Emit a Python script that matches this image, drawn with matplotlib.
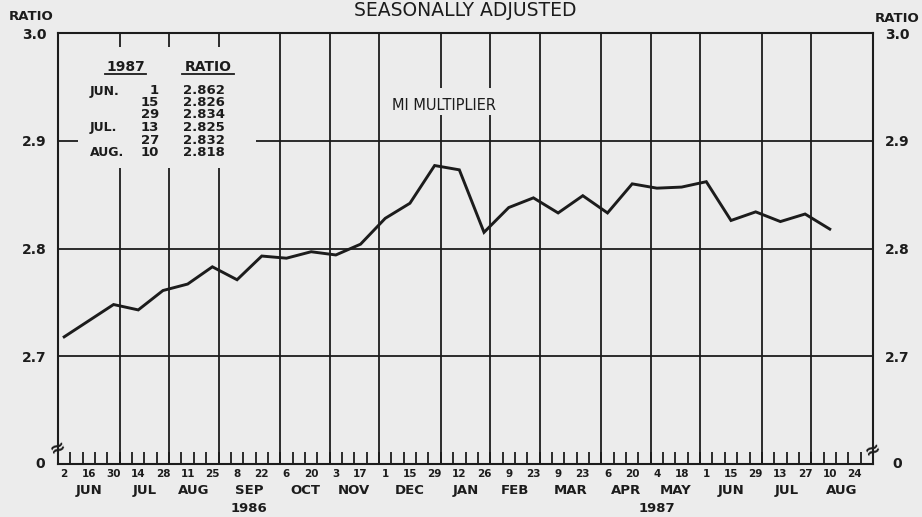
import matplotlib
matplotlib.use('Agg')
import matplotlib.pyplot as plt
import matplotlib.dates as mdates
from matplotlib.lines import Line2D
from matplotlib.transforms import blended_transform_factory
import pandas as pd

plt.rcParams['font.family'] = ['DejaVu Sans']

# ---------------- data ----------------
dates = ['1986-06-02', '1986-06-16', '1986-06-30', '1986-07-14', '1986-07-28',
         '1986-08-11', '1986-08-25', '1986-09-08', '1986-09-22', '1986-10-06',
         '1986-10-20', '1986-11-03', '1986-11-17', '1986-12-01', '1986-12-15',
         '1986-12-29', '1987-01-12', '1987-01-26', '1987-02-09', '1987-02-23',
         '1987-03-09', '1987-03-23', '1987-04-06', '1987-04-20', '1987-05-04',
         '1987-05-18', '1987-06-01', '1987-06-15', '1987-06-29', '1987-07-13',
         '1987-07-27', '1987-08-10']
values = [2.718, 2.733, 2.748, 2.743, 2.761, 2.767, 2.783, 2.771, 2.793, 2.791,
          2.797, 2.794, 2.804, 2.828, 2.842, 2.877, 2.873, 2.815, 2.838, 2.847,
          2.833, 2.849, 2.833, 2.860, 2.856, 2.857, 2.862, 2.826, 2.834, 2.825,
          2.832, 2.818]

title = 'SEASONALLY ADJUSTED'
series_label = 'MI MULTIPLIER'
y_axis_title = 'RATIO'
y_ticks = [2.7, 2.8, 2.9, 3.0]
y_tick_labels = ['2.7', '2.8', '2.9', '3.0']
y_floor = 2.6          # broken axis: drawn as "0"
y_floor_label = '0'

label_dates = ['1986-06-02', '1986-06-16', '1986-06-30', '1986-07-14', '1986-07-28',
               '1986-08-11', '1986-08-25', '1986-09-08', '1986-09-22', '1986-10-06',
               '1986-10-20', '1986-11-03', '1986-11-17', '1986-12-01', '1986-12-15',
               '1986-12-29', '1987-01-12', '1987-01-26', '1987-02-09', '1987-02-23',
               '1987-03-09', '1987-03-23', '1987-04-06', '1987-04-20', '1987-05-04',
               '1987-05-18', '1987-06-01', '1987-06-15', '1987-06-29', '1987-07-13',
               '1987-07-27', '1987-08-10', '1987-08-24']
month_names = ['JUN', 'JUL', 'AUG', 'SEP', 'OCT', 'NOV', 'DEC',
               'JAN', 'FEB', 'MAR', 'APR', 'MAY', 'JUN', 'JUL', 'AUG']
first_week = '1986-06-02'
last_week = '1987-08-31'

table_head = ['1987', 'RATIO']
table_months = ['JUN.', '', '', 'JUL.', '', 'AUG.']
table_days = ['1', '15', '29', '13', '27', '10']
table_ratios = ['2.862', '2.826', '2.834', '2.825', '2.832', '2.818']

# ---------------- style ----------------
BG = '#ececec'
INK = '#1c1c1c'
W, H = 922, 517
L, R, T, B = 58, 873, 33, 464

fig = plt.figure(figsize=(W / 100, H / 100), dpi=100, facecolor=BG)
ax = fig.add_axes([L / W, 1 - B / H, (R - L) / W, (B - T) / H], facecolor=BG)

def px(x, y):
    return x / W, 1 - y / H

x = mdates.date2num(pd.to_datetime(dates))
wk = pd.date_range(first_week, last_week, freq='7D')
wkn = mdates.date2num(wk)
half = 3.5
ax.set_xlim(wkn[0] - half, wkn[-1] + half)
ax.set_ylim(y_floor, 3.0)

# month boundaries
bounds = [wkn[i] - half for i in range(1, len(wk)) if wk.month[i] != wk.month[i - 1]]
edges = [wkn[0] - half] + bounds + [wkn[-1] + half]

gaps = {0: (2.875, 2.987), 1: (2.875, 2.987), 2: (2.875, 2.987),
        6: (2.924, 2.949), 7: (2.924, 2.949)}
for i, bx in enumerate(bounds):
    if i in gaps:
        g0, g1 = gaps[i]
        ax.vlines(bx, y_floor, g0, color=INK, lw=1.3)
        ax.vlines(bx, g1, 3.0, color=INK, lw=1.3)
    else:
        ax.vlines(bx, y_floor, 3.0, color=INK, lw=1.3)

for yv in y_ticks[:-1]:
    if yv == 2.9:
        xa = wkn[0] + 1.12 * 7
        xb = wkn[0] + 15.53 * 7
        ax.hlines(yv, wkn[0] - half, xa, color=INK, lw=1.3)
        ax.hlines(yv, xb, wkn[-1] + half, color=INK, lw=1.3)
    else:
        ax.hlines(yv, wkn[0] - half, wkn[-1] + half, color=INK, lw=1.3)

# data line
ax.plot(x, values, color=INK, lw=2.1, solid_joinstyle='miter', zorder=5)

# spines
for s in ax.spines.values():
    s.set_color(INK)
    s.set_linewidth(1.5)

# x ticks
ln = mdates.date2num(pd.to_datetime(label_dates))
ax.set_xticks(ln, labels=[str(pd.Timestamp(d).day) for d in label_dates])
ax.set_xticks(wkn[:-1] + half, minor=True)
ax.tick_params(axis='x', which='major', length=0, pad=3.5, labelsize=7.5, colors=INK)
ax.tick_params(axis='x', which='minor', direction='in', length=8.5, width=1.3, color=INK)
for lab in ax.get_xticklabels():
    lab.set_fontweight('bold')

# y ticks
ax.set_yticks(y_ticks, labels=y_tick_labels)
ax.tick_params(axis='y', length=0, pad=8.5, labelsize=10, colors=INK,
               right=True, labelright=True)
for t in ax.yaxis.get_major_ticks():
    t.label1.set_fontweight('bold')
    t.label2.set_fontweight('bold')

trans = blended_transform_factory(ax.transData, ax.transAxes)
for i, m in enumerate(month_names):
    ax.text((edges[i] + edges[i + 1]) / 2, -0.062, m, transform=trans,
            ha='center', va='center', fontsize=9.5, fontweight='bold', color=INK)

# year labels centred on each year's span
for yr in sorted(set(wk.year)):
    sel = wkn[wk.year == yr]
    ax.text((sel[0] - half + sel[-1] + half) / 2, -0.104, str(yr), transform=trans,
            ha='center', va='center', fontsize=9.5, fontweight='bold', color=INK)

# broken-axis marks and "0" labels
ytr = blended_transform_factory(ax.transAxes, ax.transData)
ax.text(0.0, 2.616, '≈', transform=ytr, ha='center', va='center', fontsize=14,
        fontweight='bold', color=INK, rotation=25, clip_on=False)
ax.text(1.0, 2.614, '≈', transform=ytr, ha='center', va='center', fontsize=14,
        fontweight='bold', color=INK, rotation=25, clip_on=False)
ax.text(-0.022, y_floor, y_floor_label, transform=ytr, ha='center', va='center',
        fontsize=10, fontweight='bold', color=INK)
ax.text(1.0294, y_floor, y_floor_label, transform=ytr, ha='center', va='center',
        fontsize=10, fontweight='bold', color=INK)

# headings
fig.text(*px(465, 10), title, ha='center', va='center', fontsize=13.5, color=INK)
fig.text(*px(31, 17), y_axis_title, ha='center', va='center', fontsize=9.5,
         fontweight='bold', color=INK)
fig.text(*px(897, 19), y_axis_title, ha='center', va='center', fontsize=9.5,
         fontweight='bold', color=INK)
fig.text(*px(444, 106), series_label, ha='center', va='center', fontsize=10.5, color=INK)

# table
fig.text(*px(125.5, 67), table_head[0], ha='center', va='center', fontsize=10,
         fontweight='bold', color=INK)
fig.text(*px(208, 67), table_head[1], ha='center', va='center', fontsize=10,
         fontweight='bold', color=INK)
for (xa, xb) in [(105, 146), (182, 234)]:
    fig.add_artist(Line2D([xa / W, xb / W], [1 - 74 / H, 1 - 74 / H], color=INK, lw=1.3))
row_y = [91, 103, 115, 127.5, 140, 152.5]
for yy, m, d, r in zip(row_y, table_months, table_days, table_ratios):
    if m:
        fig.text(*px(90, yy), m, ha='left', va='center', fontsize=9, fontweight='bold',
                 color=INK)
    fig.text(*px(159, yy), d, ha='right', va='center', fontsize=9.5, fontweight='bold',
             color=INK)
    fig.text(*px(183, yy), r, ha='left', va='center', fontsize=9.5, fontweight='bold',
             color=INK)

fig.savefig('out.png', dpi=100, facecolor=BG)
